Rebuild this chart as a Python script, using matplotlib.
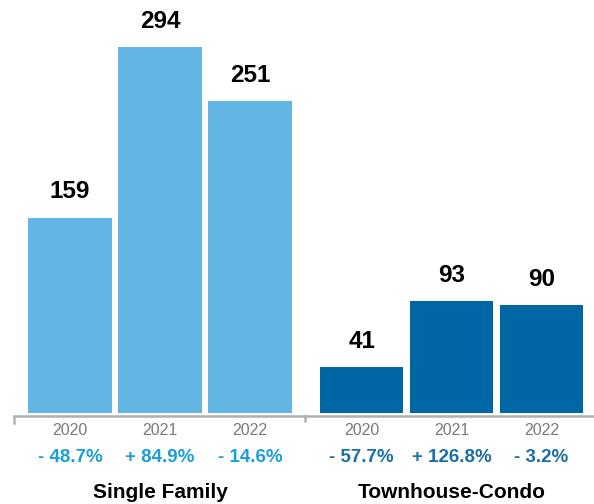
import matplotlib.pyplot as plt
import matplotlib.transforms as mtransforms

# Data
groups = ['Single Family', 'Townhouse-Condo']
years = ['2020', '2021', '2022']
single_family = [159, 294, 251]
townhouse_condo = [41, 93, 90]
sf_change = ['- 48.7%', '+ 84.9%', '- 14.6%']
tc_change = ['- 57.7%', '+ 126.8%', '- 3.2%']

light_blue = '#62b5e5'
dark_blue = '#0067a5'
light_text = '#1a9fdb'
dark_text = '#1b6fa9'

plt.rcParams['font.family'] = ['Liberation Sans', 'DejaVu Sans']

fig = plt.figure(figsize=(5.94, 5.04), dpi=100)
# axes bottom sits at the top of the grey baseline, bars clipped there
ax = fig.add_axes([0, 91 / 504, 1, 413 / 504])
ax.set_xlim(-0.778, 5.822)
ax.set_ylim(4.74, 331.2)
ax.axis('off')

gap = 1.24
sf_x = [0, 1, 2]
tc_x = [2 + gap, 3 + gap, 4 + gap]

ax.bar(sf_x, single_family, width=0.93, color=light_blue)
ax.bar(tc_x, townhouse_condo, width=0.93, color=dark_blue)

# baseline with tick marks (in data x, axes y)
trans = mtransforms.blended_transform_factory(ax.transData, ax.transAxes)
px = 1 / 413  # one pixel in axes fraction
ax.plot([-0.622, 5.9], [-3 * px, -3 * px], color='#b0b0b0', lw=1.8,
        transform=trans, clip_on=False, solid_capstyle='butt')
ax.plot([-0.622, -0.622], [-3 * px, -10 * px], color='#b0b0b0', lw=1.8,
        transform=trans, clip_on=False)
ax.plot([2.61, 2.61], [-3 * px, -8 * px], color='#b0b0b0', lw=1.8,
        transform=trans, clip_on=False)

for xs, vals, changes, col, name in [
    (sf_x, single_family, sf_change, light_text, groups[0]),
    (tc_x, townhouse_condo, tc_change, dark_text, groups[1]),
]:
    for x, v, yr, ch in zip(xs, vals, years, changes):
        ax.annotate(str(v), (x, v), xytext=(0, 14), textcoords='offset points',
                    ha='center', va='baseline', fontsize=17.5, fontweight='bold', color='black')
        ax.annotate(yr, (x, 0), xycoords=trans, xytext=(0, -15.8), textcoords='offset points',
                    ha='center', va='baseline', fontsize=11.5, color='#7a7a7a')
        ax.annotate(ch, (x, 0), xycoords=trans, xytext=(0, -35.3), textcoords='offset points',
                    ha='center', va='baseline', fontsize=13.5, fontweight='bold', color=col)
    ax.annotate(name, (xs[1], 0), xycoords=trans, xytext=(0, -61.2), textcoords='offset points',
                ha='center', va='baseline', fontsize=15, fontweight='bold', color='black')

fig.savefig('out.png', dpi=100)
